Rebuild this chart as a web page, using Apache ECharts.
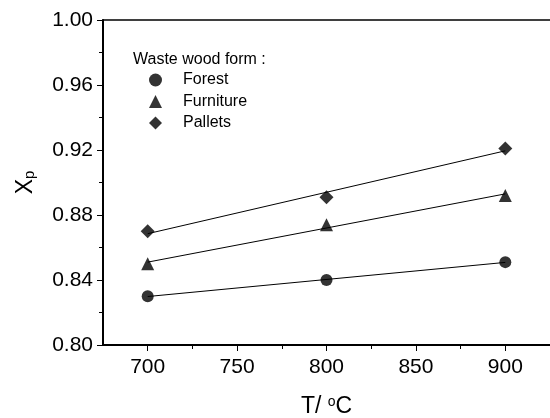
<!DOCTYPE html>
<html>
<head>
<meta charset="utf-8">
<script src="https://cdn.jsdelivr.net/npm/echarts@6/dist/echarts.min.js"></script>
<style>
  html, body { margin: 0; padding: 0; background: #fff; }
  #chart { width: 550px; height: 418px; }
</style>
</head>
<body>
<div id="chart"></div>
<script>
// Temperature (°C) and conversion X_p for each waste wood form
const temperatures = [700, 800, 900];
const forest = [0.830, 0.840, 0.851];
const furniture = [0.850, 0.874, 0.892];
const pallets = [0.870, 0.891, 0.921];

const xTickLabels = [700, 750, 800, 850, 900];
const xMinorTicks = [725, 775, 825, 875];
const legendTitle = 'Waste wood form :';
const seriesNames = ['Forest', 'Furniture', 'Pallets'];

// Least-squares straight line through a set of points, evaluated at the end temperatures
function fitLine(xs, ys) {
  const n = xs.length;
  const mx = xs.reduce((a, b) => a + b, 0) / n;
  const my = ys.reduce((a, b) => a + b, 0) / n;
  let sxy = 0, sxx = 0;
  for (let i = 0; i < n; i++) {
    sxy += (xs[i] - mx) * (ys[i] - my);
    sxx += (xs[i] - mx) * (xs[i] - mx);
  }
  const k = sxy / sxx;
  const x0 = xs[0], x1 = xs[n - 1];
  return [[x0, my + k * (x0 - mx)], [x1, my + k * (x1 - mx)]];
}

const font = 'Liberation Sans, Arial, sans-serif';
const sets = [
  { name: seriesNames[0], values: forest, symbol: 'circle', size: 12 },
  { name: seriesNames[1], values: furniture, symbol: 'triangle', size: 13 },
  { name: seriesNames[2], values: pallets, symbol: 'diamond', size: 14 }
];

const series = [];
sets.forEach(s => {
  series.push({
    name: s.name + ' fit',
    type: 'line',
    xAxisIndex: 0, yAxisIndex: 0,
    data: fitLine(temperatures, s.values),
    symbol: 'none',
    lineStyle: { color: '#000', width: 1 },
    silent: true,
    z: 2
  });
  series.push({
    name: s.name,
    type: 'scatter',
    xAxisIndex: 0, yAxisIndex: 0,
    data: temperatures.map((t, i) => [t, s.values[i]]),
    symbol: s.symbol,
    symbolSize: s.size,
    itemStyle: { color: '#000' },
    z: 3
  });
});

const X_MIN = 675, X_MAX = 925;

const chart = echarts.init(document.getElementById('chart'), null, { renderer: 'canvas' });
chart.setOption({
  animation: false,
  backgroundColor: '#fff',
  grid: { left: 103, right: 0, top: 20, bottom: 73, containLabel: false, outerBoundsMode: 'none' },
  title: {
    text: legendTitle,
    left: 128, top: 47,
    textStyle: { fontFamily: font, fontSize: 16, fontWeight: 'normal', color: '#000' }
  },
  legend: {
    data: seriesNames,
    orient: 'vertical',
    left: 144, top: 67,
    itemWidth: 13, itemHeight: 13,
    itemGap: 5.5,
    selectedMode: false,
    textStyle: { fontFamily: font, fontSize: 16, color: '#000', padding: [0, 0, 0, 16] }
  },
  xAxis: [
    {
      type: 'value', position: 'bottom',
      min: X_MIN, max: X_MAX,
      name: '{n|T/ }{sup|o}{n|C}',
      nameLocation: 'middle', nameGap: 50,
      nameTextStyle: {
        fontFamily: font, color: '#000',
        rich: {
          n: { fontFamily: font, fontSize: 23, color: '#000', verticalAlign: 'bottom' },
          sup: { fontFamily: font, fontSize: 14, color: '#000', verticalAlign: 'top' }
        }
      },
      axisLine: { show: true, lineStyle: { color: '#000', width: 2 } },
      axisTick: { show: true, inside: false, length: 6, customValues: xTickLabels, lineStyle: { color: '#000', width: 1 } },
      axisLabel: { customValues: xTickLabels, fontFamily: font, fontSize: 21, color: '#000', margin: 12 },
      splitLine: { show: false }
    },
    {
      type: 'value', position: 'bottom',
      min: X_MIN, max: X_MAX,
      axisLine: { show: false },
      axisTick: { show: true, inside: false, length: 4, customValues: xMinorTicks, lineStyle: { color: '#000', width: 1 } },
      axisLabel: { show: false, customValues: xMinorTicks },
      splitLine: { show: false }
    },
    {
      type: 'value', position: 'top',
      min: X_MIN, max: X_MAX,
      axisLine: { show: true, lineStyle: { color: '#000', width: 1.5 } },
      axisTick: { show: false },
      axisLabel: { show: false },
      splitLine: { show: false }
    }
  ],
  yAxis: {
    type: 'value',
    min: 0.8, max: 1.0, interval: 0.04,
    name: '{n|X}{sub|p}',
    nameLocation: 'middle', nameGap: 66, nameRotate: 90,
    nameTextStyle: {
      fontFamily: font, color: '#000',
      rich: {
        n: { fontFamily: font, fontSize: 23, color: '#000', verticalAlign: 'top' },
        sub: { fontFamily: font, fontSize: 15, color: '#000', verticalAlign: 'bottom' }
      }
    },
    axisLine: { show: true, lineStyle: { color: '#000', width: 2 } },
    axisTick: { show: true, inside: false, length: 6, lineStyle: { color: '#000', width: 1 } },
    minorTick: { show: true, splitNumber: 2, length: 4, lineStyle: { color: '#000', width: 1 } },
    axisLabel: { fontFamily: font, fontSize: 21, color: '#000', margin: 10, formatter: v => v.toFixed(2) },
    splitLine: { show: false },
    minorSplitLine: { show: false }
  },
  series: series
});
</script>
</body>
</html>
